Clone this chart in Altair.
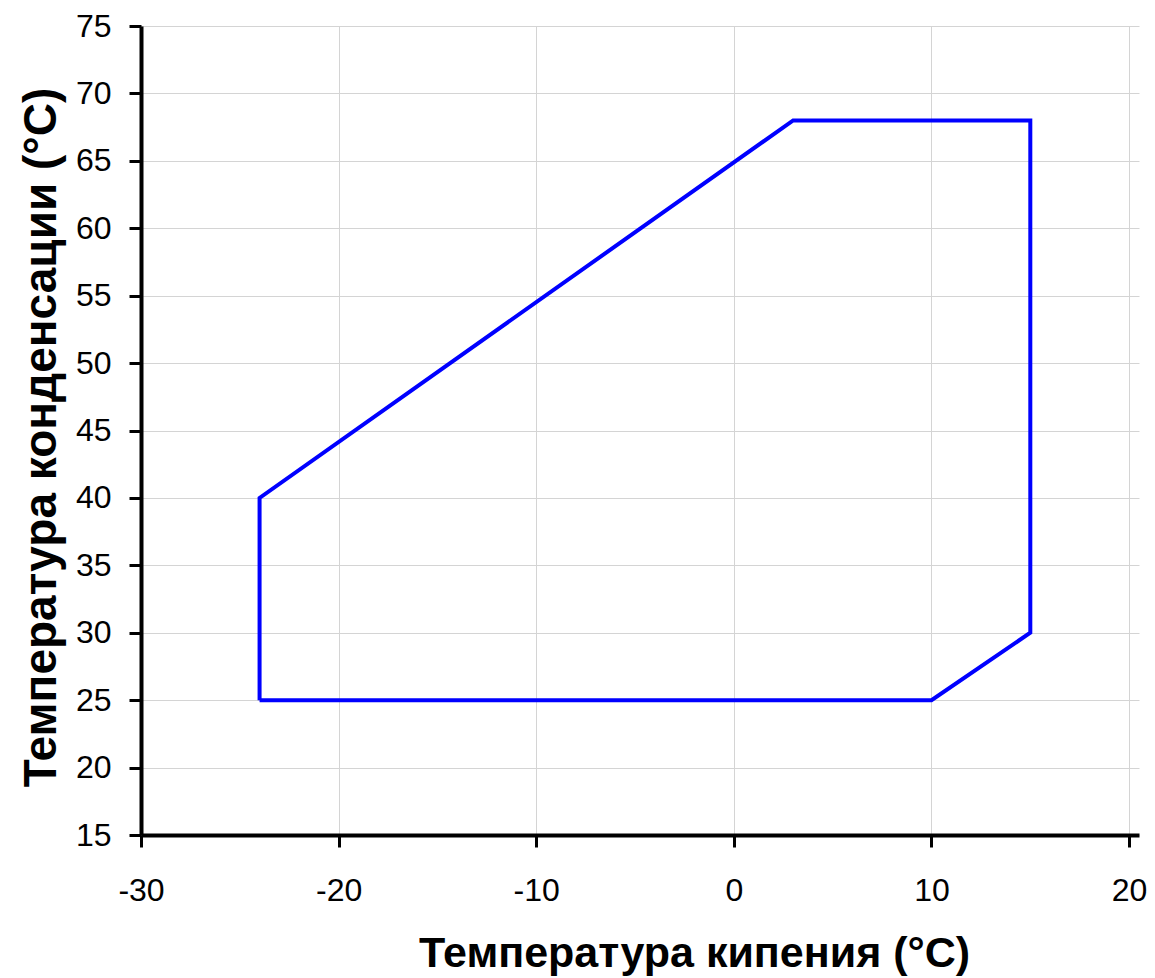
import altair as alt
import pandas as pd

# Operating envelope (polygon vertices, closed)
boil_temp = [-24, -24, 3, 15, 15, 10, -24]
cond_temp = [25, 40, 68, 68, 30, 25, 25]
order = list(range(len(boil_temp)))

x_ticks = [-30, -20, -10, 0, 10, 20]
y_ticks = [15, 20, 25, 30, 35, 40, 45, 50, 55, 60, 65, 70, 75]

df = pd.DataFrame({"x": boil_temp, "y": cond_temp, "o": order})

FONT = "Liberation Sans"

chart = alt.Chart(df).mark_line(color="#0000FF", strokeWidth=4, strokeJoin="miter").encode(
    x=alt.X("x:Q",
            scale=alt.Scale(domain=[-30, 20.5], nice=False, zero=False),
            axis=alt.Axis(values=x_ticks, title="Температура кипения (°C)",
                          labelExpr="'' + datum.value",
                          titleFontSize=43, titleFontWeight="bold", titleFont=FONT,
                          titleAnchor="start", titleAlign="center", titleX=553, titleY=131,
                          titleBaseline="alphabetic",
                          labelFontSize=32, labelFont=FONT, labelColor="black",
                          labelPadding=28, labelFlush=False,
                          tickSize=12, tickWidth=3, tickColor="black",
                          domainColor="black", domainWidth=4,
                          grid=True, gridColor="#d4d4d4", gridWidth=1)),
    y=alt.Y("y:Q",
            scale=alt.Scale(domain=[15, 75], nice=False, zero=False),
            axis=alt.Axis(values=y_ticks, title="Температура конденсации (°C)",
                          labelExpr="'' + datum.value",
                          titleFontSize=46, titleFontWeight="bold", titleFont=FONT,
                          titleAngle=270, titleAlign="center", titleBaseline="alphabetic",
                          titleX=-86, titleY=411,
                          labelFontSize=32, labelFont=FONT, labelColor="black",
                          labelPadding=18, labelFlush=False,
                          tickSize=12, tickWidth=3, tickColor="black",
                          domainColor="black", domainWidth=4,
                          grid=True, gridColor="#d4d4d4", gridWidth=1)),
    order="o:Q",
).properties(
    width=998, height=809,
    autosize=alt.AutoSizeParams(type="none"),
    padding={"left": 133, "top": 18, "right": 8, "bottom": 143},
).configure_view(stroke=None)

chart.save("out.html", embed_options={"renderer": "svg", "actions": False})
